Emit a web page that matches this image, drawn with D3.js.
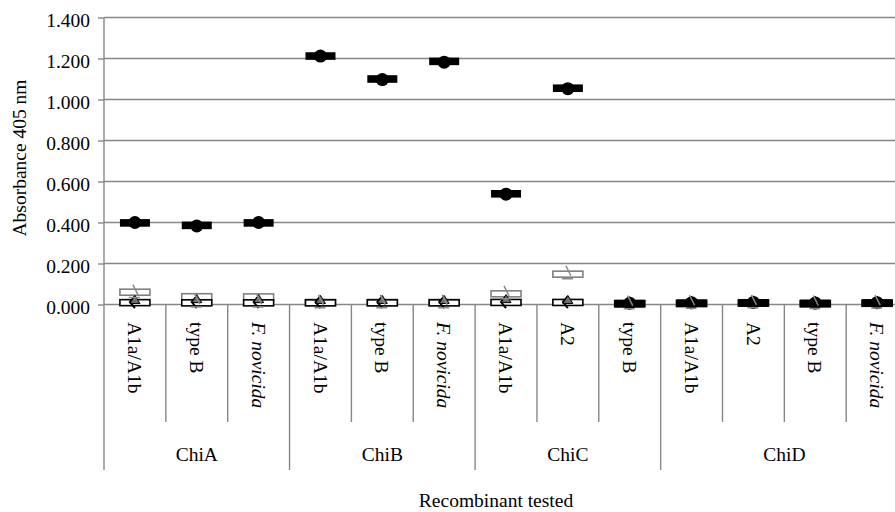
<!DOCTYPE html>
<html>
<head>
<meta charset="utf-8">
<script src="https://cdn.jsdelivr.net/npm/d3@7"></script>
<style>
  body { margin: 0; background: #fff; }
  svg text { font-family: "Liberation Serif", "DejaVu Serif", "Times New Roman", Times, serif; }
</style>
</head>
<body>
<svg width="895" height="512"></svg>
<script>
// strains tested, per recombinant
var subLabels = ["A1a/A1b", "type B", "F. novicida",
                 "A1a/A1b", "type B", "F. novicida",
                 "A1a/A1b", "A2", "type B",
                 "A1a/A1b", "A2", "type B", "F. novicida"];
var groupNames = ["ChiA", "ChiB", "ChiC", "ChiD"];
var groupSizes = [3, 3, 3, 4];
var yTicks = [0, 0.2, 0.4, 0.6, 0.8, 1.0, 1.2, 1.4];

// absorbance readings
var meanValues   = [0.398, 0.386, 0.398, 1.212, 1.100, 1.186, 0.540, 1.055, 0.004, 0.006, 0.008, 0.005, 0.007];
var circleValues = [0.400, 0.383, 0.400, 1.212, 1.097, 1.182, 0.538, 1.053, 0.006, 0.008, 0.010, 0.007, 0.009];
var controlHigh  = [0.060, 0.038, 0.037, 0.010, 0.010, 0.010, 0.052, 0.148, 0.005, 0.006, 0.008, 0.005, 0.007];
var controlLow   = [0.009, 0.008, 0.008, 0.008, 0.008, 0.008, 0.010, 0.010, 0.004, 0.005, 0.007, 0.004, 0.006];
var diamondValues  = [0.012, 0.012, 0.012, 0.012, 0.012, 0.012, 0.012, 0.012, 0.006, 0.008, 0.010, 0.007, 0.009];
var triangleValues = [0.010, 0.014, 0.014, 0.010, 0.010, 0.010, 0.014, 0.010, 0.004, 0.006, 0.008, 0.005, 0.007];
var slashValues    = [0.058, 0.012, 0.012, 0.008, 0.008, 0.008, 0.052, 0.150, 0.004, 0.006, 0.008, 0.005, 0.007];

var svg = d3.select("svg");
var plotLeft = 104, plotTop = 17.5, plotBottom = 304.5, catW = 61.85;
var serif = "'Liberation Serif', 'DejaVu Serif', 'Times New Roman', serif";

var x = d3.scaleBand()
    .domain(d3.range(subLabels.length))
    .range([plotLeft, plotLeft + catW * subLabels.length]);
var y = d3.scaleLinear().domain([0, 1.4]).range([plotBottom, plotTop]);

var gridColor = "#878787";

// horizontal gridlines
svg.append("g").selectAll("line")
    .data(yTicks)
    .enter().append("line")
    .attr("x1", plotLeft).attr("x2", 895)
    .attr("y1", d => y(d)).attr("y2", d => y(d))
    .attr("stroke", gridColor).attr("stroke-width", 1.4);

// y axis
var yAxis = svg.append("g")
    .attr("transform", "translate(" + plotLeft + ",0)")
    .call(d3.axisLeft(y).tickValues(yTicks).tickFormat(d3.format(".3f")).tickSize(6).tickPadding(8));
yAxis.attr("font-family", null).attr("font-size", null);
yAxis.select(".domain").remove();
yAxis.selectAll("line").attr("stroke", gridColor).attr("stroke-width", 1.4);
yAxis.selectAll("text")
    .style("font-family", serif)
    .attr("font-size", 19.5).attr("fill", "#000").attr("dy", "0.45em");

svg.append("line")
    .attr("x1", plotLeft).attr("x2", plotLeft)
    .attr("y1", plotTop).attr("y2", 470)
    .attr("stroke", gridColor).attr("stroke-width", 1.4);

// category separators
var groupEnds = Array.from(d3.cumsum(groupSizes));
d3.range(1, subLabels.length + 1).forEach(function (i) {
    var isGroup = groupEnds.indexOf(i) >= 0;
    var sx = x(0) + i * x.bandwidth();
    svg.append("line")
        .attr("x1", sx).attr("x2", sx)
        .attr("y1", plotBottom).attr("y2", isGroup ? 470 : 422)
        .attr("stroke", gridColor).attr("stroke-width", 1.4);
});

// strain labels
svg.append("g").selectAll("text")
    .data(subLabels)
    .enter().append("text")
    .attr("transform", (d, i) => "translate(" + (x(i) + x.bandwidth() / 2) + ",322) rotate(90)")
    .attr("dy", "0.35em")
    .attr("font-size", 19.5)
    .style("font-family", serif)
    .attr("font-style", d => d === "F. novicida" ? "italic" : "normal")
    .text(d => d);

// recombinant labels
var groupStarts = [0].concat(groupEnds.slice(0, -1));
svg.append("g").selectAll("text")
    .data(groupNames)
    .enter().append("text")
    .attr("x", (d, i) => x(groupStarts[i]) + groupSizes[i] * x.bandwidth() / 2)
    .attr("y", 461)
    .attr("text-anchor", "middle")
    .attr("font-size", 19.5)
    .style("font-family", serif)
    .text(d => d);

// axis titles
svg.append("text")
    .attr("x", 496).attr("y", 507)
    .attr("text-anchor", "middle")
    .attr("font-size", 19.5)
    .style("font-family", serif)
    .text("Recombinant tested");

svg.append("text")
    .attr("transform", "translate(26,158) rotate(-90)")
    .attr("text-anchor", "middle")
    .attr("font-size", 19.5)
    .style("font-family", serif)
    .text("Absorbance 405 nm");

// markers
function cx(i) { return x(i) + x.bandwidth() / 2; }
var dashW = 30, dashH = 6;

var marks = svg.append("g");

// grey-outlined control dash
marks.selectAll(".ctrlHigh")
    .data(controlHigh)
    .enter().append("rect")
    .attr("x", (d, i) => cx(i) - dashW / 2)
    .attr("y", d => y(d) - dashH / 2)
    .attr("width", dashW).attr("height", dashH)
    .attr("fill", "#fff").attr("stroke", "#808080").attr("stroke-width", 1.6);

// black-outlined control dash
marks.selectAll(".ctrlLow")
    .data(controlLow)
    .enter().append("rect")
    .attr("x", (d, i) => cx(i) - dashW / 2)
    .attr("y", d => y(d) - dashH / 2)
    .attr("width", dashW).attr("height", dashH)
    .attr("fill", "#fff").attr("stroke", "#000").attr("stroke-width", 1.6);

// open diamonds
marks.selectAll(".diamond")
    .data(diamondValues)
    .enter().append("path")
    .attr("transform", (d, i) => "translate(" + cx(i) + "," + y(d) + ")")
    .attr("d", "M0,-6L-5,0L0,6")
    .attr("fill", "none").attr("stroke", "#000").attr("stroke-width", 2);

// grey triangles
marks.selectAll(".triangle")
    .data(triangleValues)
    .enter().append("path")
    .attr("transform", (d, i) => "translate(" + cx(i) + "," + y(d) + ")")
    .attr("d", "M0,-7L5,1L-5,1Z")
    .attr("fill", "#6e6e6e").attr("stroke", "#000").attr("stroke-width", 1);

// filled black dash
marks.selectAll(".mean")
    .data(meanValues)
    .enter().append("rect")
    .attr("x", (d, i) => cx(i) - dashW / 2)
    .attr("y", d => y(d) - 3.8)
    .attr("width", dashW).attr("height", 7.6)
    .attr("fill", "#000");

// black circles
marks.selectAll(".circle")
    .data(circleValues)
    .enter().append("circle")
    .attr("cx", (d, i) => cx(i))
    .attr("cy", d => y(d))
    .attr("r", 6.5)
    .attr("fill", "#000");

// grey slash markers
marks.selectAll(".slash")
    .data(slashValues)
    .enter().append("path")
    .attr("transform", (d, i) => "translate(" + cx(i) + "," + y(d) + ")")
    .attr("d", "M-2,-8L3,2M-6,5L5,5")
    .attr("fill", "none").attr("stroke", "#8a8a8a").attr("stroke-width", 1.5);
</script>
</body>
</html>
